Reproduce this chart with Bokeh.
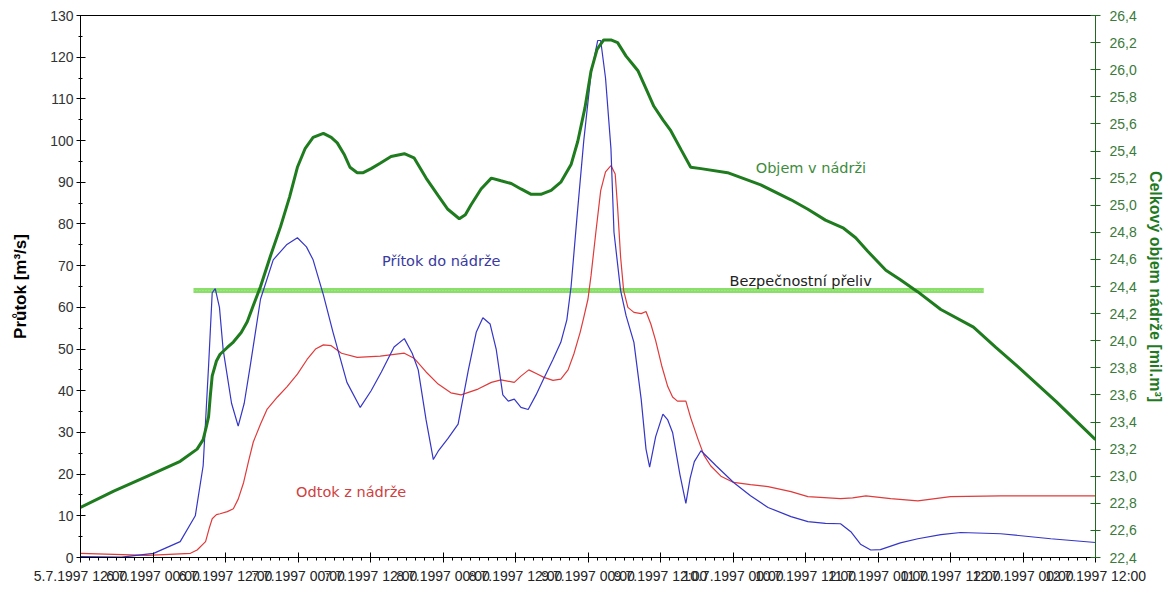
from bokeh.plotting import figure
from bokeh.models import Range1d, LinearAxis, FixedTicker, CustomJSTickFormatter, Label
from bokeh.embed import file_html
from bokeh.resources import INLINE

# ---------------- data ----------------
# time axis: hours since 5.7.1997 12:00
x_tick_hours = [0, 12, 24, 36, 48, 60, 72, 84, 96, 108, 120, 132, 144, 156, 168]
x_tick_labels = ["5.7.1997 12:00", "6.7.1997 00:00", "6.7.1997 12:00", "7.7.1997 00:00",
                 "7.7.1997 12:00", "8.7.1997 00:00", "8.7.1997 12:00", "9.7.1997 00:00",
                 "9.7.1997 12:00", "10.7.1997 00:00", "10.7.1997 12:00", "11.7.1997 00:00",
                 "11.7.1997 12:00", "12.7.1997 00:00", "12.7.1997 12:00"]
flow_ticks = [0, 10, 20, 30, 40, 50, 60, 70, 80, 90, 100, 110, 120, 130]
vol_ticks = [22.4, 22.6, 22.8, 23.0, 23.2, 23.4, 23.6, 23.8, 24.0, 24.2, 24.4,
             24.6, 24.8, 25.0, 25.2, 25.4, 25.6, 25.8, 26.0, 26.2, 26.4]

# inflow (Přítok do nádrže) [m3/s]
inflow_t = [0, 6.8, 12.1, 16.5, 19.0, 20.3, 21.2, 21.8, 22.3, 23.0, 23.6, 25.0, 26.1, 27.1,
            28.1, 29.8, 31.9, 34.1, 35.9, 37.4, 38.5, 40.2, 41.8, 44.1, 46.3, 48.1, 49.8,
            51.9, 53.6, 54.9, 55.9, 57.2, 58.4, 59.2, 60.8, 62.5, 64.2, 65.5, 66.6, 67.8,
            68.8, 69.9, 70.8, 71.8, 72.9, 74.1, 75.4, 76.7, 78.2, 79.5, 80.5, 81.2, 82.2,
            83.3, 84.5, 85.6, 86.1, 86.9, 87.8, 88.3, 89.4, 90.3, 91.6, 92.8, 93.6, 94.2,
            95.2, 96.4, 97.2, 98.0, 99.2, 100.2, 100.9, 101.6, 102.7, 105.2, 108.1, 110.9,
            113.8, 117.6, 120.4, 123.3, 125.8, 127.5, 129.1, 130.8, 132.4, 135.7, 138.6,
            142.4, 145.7, 152.3, 160.6, 168]
inflow_q = [0.2, 0.1, 1.0, 3.8, 10, 22, 46, 63.5, 64.5, 60, 50, 37, 31.5, 37,
            46, 62, 71.4, 75, 76.7, 74.5, 71.4, 63, 54, 42, 36, 40, 44.5,
            50.5, 52.5, 49, 45, 33, 23.5, 25.5, 28.5, 32, 45, 54, 57.5, 56,
            50, 39, 37.5, 38, 36, 35.5, 39, 43, 47.5, 51.6, 57, 65, 82,
            100, 116, 124, 124, 115, 98, 78, 64, 58, 51.6, 38, 26, 21.7,
            29, 34.4, 33, 30, 20, 13, 19, 23, 25.6, 22, 18, 14.8,
            12, 9.8, 8.6, 8.2, 8.1, 6.2, 3.2, 1.8, 1.9, 3.5, 4.5,
            5.5, 6.0, 5.7, 4.5, 3.6]

# outflow (Odtok z nádrže) [m3/s]
outflow_t = [0, 11.1, 18.2, 19.3, 20.7, 21.3, 21.8, 22.5, 23.1, 24.3, 25.3, 26.1, 27.0,
             27.8, 28.6, 29.8, 30.9, 32.6, 34.2, 35.9, 37.5, 38.9, 40.2, 41.5, 43.2, 45.8,
             49.6, 53.6, 55.2, 57.2, 59.2, 61.3, 63.0, 65.8, 68.0, 69.6, 71.8, 72.9, 74.2,
             75.6, 76.7, 78.2, 79.5, 80.7, 81.7, 82.7, 83.3, 84.0, 84.5, 85.3, 86.1, 86.9,
             87.8, 88.5, 88.9, 89.4, 89.9, 90.6, 91.6, 92.8, 93.6, 94.4, 95.2, 96.2, 97.2,
             98.0, 98.8, 100.2, 101.0, 102.2, 103.2, 104.3, 106.0, 108.1, 110.9, 113.8,
             117.6, 120.4, 125.8, 127.8, 130.0, 134.1, 138.6, 144.0, 152.3, 168]
outflow_q = [1.0, 0.5, 1.0, 1.8, 3.8, 7, 9.3, 10.3, 10.5, 11, 11.7, 14, 18,
             23, 27.7, 32, 35.6, 38.5, 41, 44, 47.5, 50, 51, 50.8, 49, 48,
             48.3, 49, 47.8, 44.5, 41.6, 39.5, 39, 40.4, 42, 42.6, 42, 43.5, 45,
             44, 43.2, 42.5, 42.8, 45, 49, 54, 57.6, 62, 67.6, 78, 88, 92.5,
             94, 92, 84, 72, 64, 60, 58.8, 58.5, 59, 56, 52, 46, 41,
             38.5, 37.5, 37.5, 33.5, 28.4, 24.5, 22, 19.5, 18, 17.5, 17,
             15.8, 14.6, 14.1, 14.3, 14.8, 14.1, 13.6, 14.6, 14.8, 14.8]

# total reservoir volume (Objem v nádrži) [mil. m3]
volume_t = [0, 5.5, 11.1, 16.5, 19.3, 20.3, 20.8, 21.2, 21.5, 21.8, 22.5, 23.1, 24.3,
            25.3, 26.6, 27.6, 28.6, 29.8, 31.4, 33.1, 34.6, 35.9, 37.2, 38.5, 40.2, 41.5,
            42.5, 43.7, 44.6, 45.8, 46.8, 48.1, 49.6, 51.4, 53.6, 55.2, 57.2, 59.2, 60.8,
            62.7, 63.7, 64.6, 66.3, 68.0, 69.6, 71.3, 72.9, 74.6, 76.2, 77.9, 79.5, 81.2,
            82.3, 83.5, 84.5, 85.5, 86.6, 87.8, 88.9, 90.3, 91.4, 92.3, 93.6, 94.9, 96.4,
            97.7, 99.4, 101.0, 102.7, 107.1, 112.6, 117.6, 120.4, 123.3, 126.3, 128.3,
            130.3, 133.3, 135.7, 138.6, 142.4, 147.8, 151.5, 155.1, 161.5, 168]
volume_v = [22.77, 22.89, 23.0, 23.11, 23.2, 23.27, 23.36, 23.44, 23.6, 23.74, 23.85, 23.9, 23.95,
            23.99, 24.06, 24.14, 24.26, 24.4, 24.62, 24.84, 25.06, 25.28, 25.42, 25.5, 25.53, 25.5,
            25.46, 25.37, 25.28, 25.24, 25.24, 25.27, 25.31, 25.36, 25.38, 25.35, 25.2, 25.07, 24.97,
            24.9, 24.93, 25.0, 25.12, 25.2, 25.18, 25.16, 25.12, 25.08, 25.08, 25.11, 25.17, 25.3,
            25.47, 25.72, 25.99, 26.15, 26.22, 26.22, 26.2, 26.1, 26.04, 25.99, 25.86, 25.73, 25.63,
            25.55, 25.41, 25.28, 25.27, 25.24, 25.15, 25.04, 24.97, 24.89, 24.83, 24.76,
            24.66, 24.52, 24.45, 24.36, 24.23, 24.1, 23.95, 23.81, 23.55, 23.27]

# safety spillway (Bezpečnostní přeliv)
spillway_t = [18.7, 149.5]
spillway_v = [24.37, 24.37]

# ---------------- figure ----------------
FONT = "Liberation Sans"
LABEL_FONT = "DejaVu Sans"

p = figure(width=1166, height=586, output_backend="svg", toolbar_location=None,
           x_range=Range1d(0, 168), y_range=Range1d(0, 130),
           min_border_left=80, min_border_right=70, min_border_top=15, min_border_bottom=27,
           background_fill_color="white", border_fill_color="white")
p.extra_y_ranges = {"vol": Range1d(22.4, 26.4)}
p.grid.visible = False
p.outline_line_color = None

# bottom axis
xa = p.xaxis[0]
xa.ticker = FixedTicker(ticks=x_tick_hours,
                        minor_ticks=[i * 1.5 for i in range(0, 113)])
xa.major_label_overrides = {h: l for h, l in zip(x_tick_hours, x_tick_labels)}
xa.major_label_text_font = FONT
xa.major_label_text_font_size = "14px"
xa.major_label_text_color = "#222222"
xa.major_label_standoff = 5
xa.axis_line_color = "black"
xa.major_tick_line_color = "black"
xa.minor_tick_line_color = "black"
xa.major_tick_in = 5
xa.major_tick_out = 5
xa.minor_tick_in = 0
xa.minor_tick_out = 3

# left axis
ya = p.yaxis[0]
ya.ticker = FixedTicker(ticks=flow_ticks, minor_ticks=list(range(0, 131, 5)))
ya.axis_label = "Průtok [m³/s]"
ya.axis_label_text_font = FONT
ya.axis_label_text_font_style = "bold"
ya.axis_label_text_font_size = "17px"
ya.axis_label_text_color = "black"
ya.axis_label_standoff = 17
ya.major_label_text_font = FONT
ya.major_label_text_font_size = "14px"
ya.major_label_text_color = "#333333"
ya.major_label_standoff = 3
ya.axis_line_color = "black"
ya.major_tick_line_color = "black"
ya.minor_tick_line_color = "black"
ya.major_tick_in = 5
ya.major_tick_out = 4
ya.minor_tick_in = 2
ya.minor_tick_out = 2

# right axis (volume)
ra = LinearAxis(y_range_name="vol", ticker=FixedTicker(ticks=vol_ticks),
                formatter=CustomJSTickFormatter(code="return tick.toFixed(1).replace('.', ',');"))
ra.axis_label = "Celkový objem nádrže [mil.m³]"
ra.axis_label_text_font = FONT
ra.axis_label_text_font_style = "bold"
ra.axis_label_text_font_size = "16px"
ra.axis_label_text_color = "#1f7a1f"
ra.axis_label_standoff = 7
ra.major_label_text_font = FONT
ra.major_label_text_font_size = "14px"
ra.major_label_text_color = "#3a7a3a"
ra.major_label_standoff = 9
ra.axis_line_color = "#1f6a1f"
ra.major_tick_line_color = "#1f6a1f"
ra.major_tick_in = 5
ra.major_tick_out = 5
ra.minor_tick_line_color = None
p.add_layout(ra, "right")

# top border line
ta = LinearAxis(ticker=FixedTicker(ticks=[]), major_label_text_font_size="0px",
                major_tick_line_color=None, minor_tick_line_color=None,
                axis_line_color="black")
p.add_layout(ta, "above")

# ---------------- series ----------------
p.line(spillway_t, spillway_v, y_range_name="vol", line_color="#8ade6a", line_width=5)
p.line(spillway_t, spillway_v, y_range_name="vol", line_color="#b8f0a0", line_width=1,
       line_dash="1 2")
p.line(outflow_t, outflow_q, line_color="#e03a3a", line_width=1.2)
p.line(inflow_t, inflow_q, line_color="#3535c8", line_width=1.2)
p.line(volume_t, volume_v, y_range_name="vol", line_color="#1e7b1e", line_width=3)

# ---------------- labels ----------------
for txt, lx, ly, col in [("Přítok do nádrže", 59.7, 71.0, "#3a3aa0"),
                         ("Odtok z nádrže", 44.8, 15.8, "#d04040"),
                         ("Objem v nádrži", 120.9, 93.4, "#3c8c3c"),
                         ("Bezpečnostní přeliv", 119.2, 66.3, "#222222")]:
    p.add_layout(Label(x=lx, y=ly, text=txt, text_align="center", text_baseline="middle",
                       text_font=LABEL_FONT, text_font_size="14.5px", text_color=col))

open("out.html", "w").write(file_html(p, INLINE))
